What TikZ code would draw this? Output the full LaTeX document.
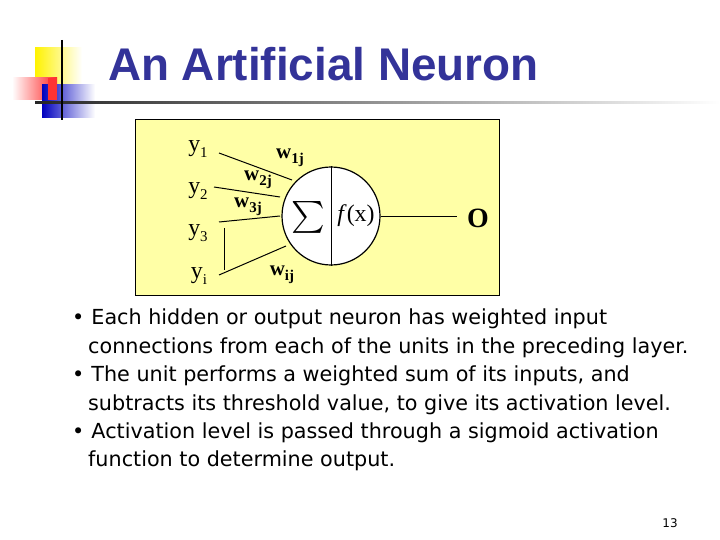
\documentclass[tikz,border=0pt]{standalone}
\usepackage{fontspec}
\setmainfont{Liberation Serif}
\newfontfamily\sansf{DejaVu Sans}
\newfontfamily\titlef{Liberation Sans}
\definecolor{titleblue}{HTML}{333399}
\definecolor{boxyellow}{HTML}{FFFFA6}
\newcommand{\sbx}[1]{\raisebox{-0.25em}{\fontsize{15}{15}\selectfont #1}}
\begin{document}
\begin{tikzpicture}[x=1bp,y=-1bp,
  lbl/.style={inner sep=0pt,font=\fontsize{24}{26}\selectfont},
  wl/.style={inner sep=0pt,font=\bfseries\fontsize{21}{22}\selectfont},
  wire/.style={line width=1pt},
  btxt/.style={anchor=north west,inner sep=0pt,align=left,font=\sansf\fontsize{20.8}{28.5}\selectfont}]
\useasboundingbox (0,0) rectangle (720,540);
% logo
\shade[left color=yellow!90!orange,right color=white] (35,48) rectangle (82,88);
\shade[left color=white,right color=red!85] (12,78) rectangle (57,100);
\shade[left color=blue!75!black,right color=white] (42,85) rectangle (95,118);
\fill[red!80] (48,78) rectangle (57,100);
\shade[left color=black!85,right color=white] (35,102) rectangle (720,104);
\draw[line width=1.5pt] (62,40) -- (62,120);
\node[anchor=west,inner sep=0pt,text=titleblue,font=\titlef\bfseries\fontsize{46}{48}\selectfont] (title) at (108,64) {An Artificial Neuron};
% diagram box
\node[draw,fill=boxyellow,line width=0.8pt,minimum width=364bp,minimum height=176bp,inner sep=0pt] (box) at (317,207) {};
\node[draw,circle,fill=white,line width=1.2pt,minimum size=98bp,inner sep=0pt] (neuron) at (331,216) {};
\draw[wire] (neuron.north) -- (neuron.south);
\node[inner sep=0pt] (sig) at (308,217) {\scalebox{3.2}{$\sum$}};
\node[lbl] (fx) at (356,216) {\textit{f}(x)};
\node[lbl] (y1) at (198,149) {y\sbx{1}};
\node[lbl] (y2) at (198,191) {y\sbx{2}};
\node[lbl] (y3) at (198,233) {y\sbx{3}};
\node[lbl] (yi) at (199,276) {y\sbx{i}};
\coordinate (a1) at (219,153); \coordinate (b1) at (292,180);
\coordinate (a2) at (214,187); \coordinate (b2) at (280,197);
\coordinate (a3) at (219,222); \coordinate (b3) at (280,216);
\coordinate (ai) at (219,275); \coordinate (bi) at (286,246);
\coordinate (v1) at (224,228); \coordinate (v2) at (224,270);
\draw[wire] (a1) -- (b1);
\draw[wire] (a2) -- (b2);
\draw[wire] (a3) -- (b3);
\draw[wire] (ai) -- (bi);
\draw[wire] (v1) -- (v2);
\node[lbl,font=\bfseries\fontsize{28}{28}\selectfont] (out) at (478,218) {O};
\draw[wire] (neuron.east) -- (457,216);
\node[wl] (w1) at (290,158) {w\sbx{1j}};
\node[wl] (w2) at (258,180) {w\sbx{2j}};
\node[wl] (w3) at (248,207) {w\sbx{3j}};
\node[wl] (wi) at (282,275) {w\sbx{ij}};
% bullets
\node[btxt] (t1) at (72,309) {\textbullet\hspace{7bp}Each hidden or output neuron has weighted input\\\hspace*{16bp}connections from each of the units in the preceding layer.\\\textbullet\hspace{7bp}The unit performs a weighted sum of its inputs, and\\\hspace*{16bp}subtracts its threshold value, to give its activation level.\\\textbullet\hspace{7bp}Activation level is passed through a sigmoid activation\\\hspace*{16bp}function to determine output.};
\node[inner sep=0pt,font=\sansf\fontsize{12}{12}\selectfont] (pg) at (670,523) {13};
\end{tikzpicture}
\end{document}
